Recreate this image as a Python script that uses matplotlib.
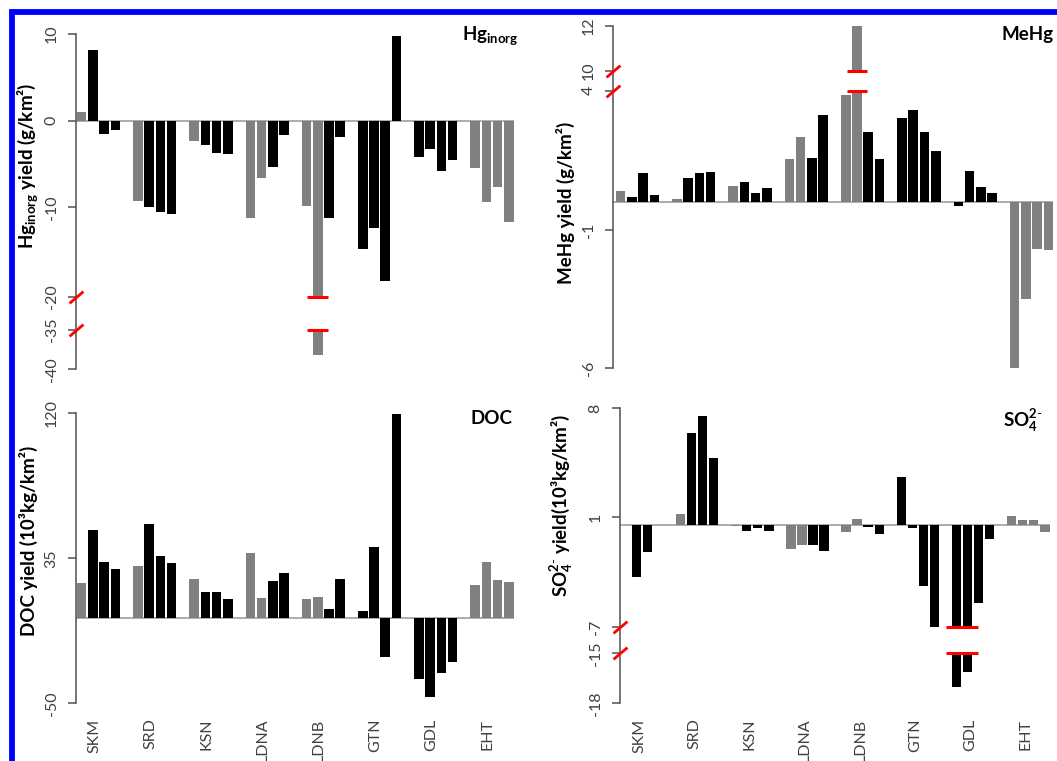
import numpy as np
import matplotlib
matplotlib.use("Agg")
import matplotlib.pyplot as plt
from matplotlib.patches import Rectangle

plt.rcParams['font.family'] = ['Lato', 'DejaVu Sans']
plt.rcParams['mathtext.fontset'] = 'custom'
plt.rcParams['mathtext.rm'] = 'Lato'
plt.rcParams['mathtext.bf'] = 'Lato:bold'
plt.rcParams['mathtext.it'] = 'Lato:italic'
plt.rcParams['axes.unicode_minus'] = False

# ---------------------------------------------------------------- data
SITES = ["SKM", "SRD", "KSN", "LDNA", "LDNB", "GTN", "GDL", "EHT"]
# g = grey bar, b = black bar (four periods per site)
SHADES = ["gbbb", "gbbb", "gbbb", "ggbb", "ggbb", "bbbb", "bbbb", "gggg"]

HG_INORG = [
    [1.0, 8.2, -1.5, -1.1],
    [-9.3, -10.0, -10.5, -10.7],
    [-2.4, -2.8, -3.7, -3.85],
    [-11.2, -6.65, -5.3, -1.7],
    [-9.9, -38.2, -11.2, -1.85],
    [-14.7, -12.35, -18.25, 9.75],
    [-4.15, -3.3, -5.8, -4.55],
    [-5.45, -9.4, -7.6, -11.65],
]
MEHG = [
    [0.40, 0.19, 1.06, 0.25],
    [0.12, 0.85, 1.06, 1.09],
    [0.59, 0.71, 0.31, 0.50],
    [1.56, 2.34, 1.59, 3.11],
    [3.84, 12.0, 2.52, 1.56],
    [3.03, 3.31, 2.52, 1.83],
    [-0.14, 1.13, 0.55, 0.32],
    [-6.0, -3.49, -1.69, -1.73],
]
DOC = [
    [20.7, 51.8, 32.8, 28.9],
    [30.3, 54.9, 36.6, 32.3],
    [22.7, 15.3, 15.3, 11.4],
    [37.9, 11.9, 21.5, 26.6],
    [11.4, 12.5, 5.1, 22.7],
    [4.3, 41.6, -22.7, 119.4],
    [-35.9, -46.5, -32.1, -26.0],
    [19.6, 32.6, 22.1, 21.3],
]
SO4 = [
    [0.0, -3.54, -1.85, 0.0],
    [1.19, 6.39, 7.49, 4.79],
    [-0.07, -0.39, -0.21, -0.39],
    [-1.64, -1.39, -1.39, -1.78],
    [-0.5, 0.78, -0.14, -0.62],
    [3.59, -0.21, -4.15, -7.0],
    [-17.0, -16.1, -5.36, -0.98],
    [1.1, 0.61, 0.61, -0.5],
]

HG_TICKS = [10, 0, -10, -20, -35, -40]
MEHG_TICKS = [12, 10, 4, -1, -6]
DOC_TICKS = [120, 35, -50]
SO4_TICKS = [8, 1, -7, -15, -18]

# ---------------------------------------------------------------- style
GREY = "#808080"
BLACK = "#000000"
AXIS_COL = "#505050"
TICK_TXT = "#404040"
ZERO_COL = "#a6a6a6"
BREAK_COL = "#ff0000"
BAR_W = 0.85

W, H = 1057, 761
fig = plt.figure(figsize=(W / 100, H / 100), dpi=100)


def piecewise_scale(vals, ys):
    """Broken-axis scale: piecewise linear between knot values."""
    v = np.asarray(vals, float)
    p = -np.asarray(ys, float)

    def _map(x, a, b):
        x = np.asarray(x, float)
        out = np.interp(x, a, b)
        s0 = (b[1] - b[0]) / (a[1] - a[0])
        s1 = (b[-1] - b[-2]) / (a[-1] - a[-2])
        out = np.where(x < a[0], b[0] + (x - a[0]) * s0, out)
        out = np.where(x > a[-1], b[-1] + (x - a[-1]) * s1, out)
        return out

    return (lambda x: _map(x, v, p)), (lambda y: _map(y, p, v))


def add_panel(spec):
    left, top, right, bottom = spec["box"]
    ax = fig.add_axes([left / W, 1 - bottom / H, (right - left) / W, (bottom - top) / H])
    fwd, inv = piecewise_scale(spec["knot_vals"], spec["knot_px"])
    ax.set_yscale("function", functions=(fwd, inv))

    values = np.asarray(spec["data"], float)
    xs, ys, cols = [], [], []
    for i, site_vals in enumerate(values):
        for j, val in enumerate(site_vals):
            xs.append(5 * i + j)
            ys.append(val)
            cols.append(GREY if SHADES[i][j] == "g" else BLACK)
    xs = np.array(xs, float)
    ys = np.array(ys, float)

    ax.axhline(0, color=ZERO_COL, lw=1.3, zorder=1)
    ax.bar(xs, ys, width=BAR_W, color=cols, zorder=2, linewidth=0)

    ticks = spec["ticks"]
    ax.set_ylim(min(ticks), max(ticks))
    ax.set_xlim(spec["xlim"], 38.45)

    # broken bars: blank the gap and mark both cut edges
    gap = spec.get("gap")
    if gap is not None:
        lo, hi = gap
        cut = (ys < lo) if hi <= 0 else (ys > hi)
        for x in xs[cut]:
            ax.add_patch(Rectangle((x - BAR_W / 2 - 0.05, lo), BAR_W + 0.1, hi - lo,
                                   facecolor="white", edgecolor="none", zorder=3))
        if cut.any():
            ax.hlines([lo, hi], xs[cut].min() - 0.93, xs[cut].max() + 0.93,
                      colors=BREAK_COL, lw=2.2, zorder=4)
        slash = [(-1, -0.85), (1, 0.85)]
        ax.plot([0, 0], [lo, hi], linestyle="none", marker=slash, ms=10,
                mec=BREAK_COL, mfc="none", mew=2.0,
                transform=ax.get_yaxis_transform(), clip_on=False, zorder=5)

    for side in ("top", "right", "bottom"):
        ax.spines[side].set_visible(False)
    ax.spines["left"].set_color(AXIS_COL)
    ax.spines["left"].set_linewidth(1.1)

    ax.set_yticks(ticks)
    ax.set_yticklabels([str(t) for t in ticks])
    ax.yaxis.set_minor_locator(matplotlib.ticker.NullLocator())
    ax.tick_params(axis="y", labelrotation=90, length=5.5, width=1.1,
                   color=AXIS_COL, labelcolor=TICK_TXT, labelsize=11.5, pad=7)
    for lab in ax.get_yticklabels():
        lab.set_verticalalignment("center")

    if spec.get("xlabels"):
        ax.set_xticks([5 * i + spec["label_off"] for i in range(len(SITES))])
        ax.set_xticklabels(SITES, rotation=90, fontsize=11.5, color=TICK_TXT)
        ax.tick_params(axis="x", length=0, pad=11)
    else:
        ax.set_xticks([])

    yl_x, yl_y = spec["ylabel_at"]
    fig.text(yl_x / W, 1 - yl_y / H, spec["ylabel"], rotation=90, ha="center",
             va="center", fontsize=13.5, fontweight="bold", color="#000000")
    tx, ty, tha = spec["title_at"]
    fig.text(tx / W, 1 - ty / H, spec["title"], ha=tha, va="baseline",
             fontsize=13.5, fontweight="bold", color="#000000")
    return ax


panels = [
    dict(data=HG_INORG, box=(76, 34, 514, 369.3), xlim=-0.5,
         knot_vals=[-40, -35, -20, -10, 0, 10],
         knot_px=[369.3, 330, 296.7, 207.3, 120.7, 34],
         ticks=HG_TICKS, gap=(-35, -20),
         ylabel=r"Hg$_{\mathbf{inorg}}$ yield (g/km²)", ylabel_at=(28, 166),
         title=r"Hg$_{\mathbf{inorg}}$", title_at=(518, 40, "right")),
    dict(data=MEHG, box=(613.3, 25.7, 1053.4, 368), xlim=-0.65,
         knot_vals=[-6, -1, 0, 4, 10, 12],
         knot_px=[368, 230, 202, 90.7, 71, 25.7],
         ticks=MEHG_TICKS, gap=(4, 10),
         ylabel="MeHg yield (g/km²)", ylabel_at=(565, 203),
         title="MeHg", title_at=(1001.7, 40, "left")),
    dict(data=DOC, box=(76, 413.3, 514, 703.3), xlim=-0.5,
         knot_vals=[-50, 120], knot_px=[703.3, 413.3],
         ticks=DOC_TICKS, xlabels=True, label_off=1.1,
         ylabel="DOC yield (10³kg/km²)", ylabel_at=(28, 541),
         title="DOC", title_at=(512, 423.5, "right")),
    dict(data=SO4, box=(620, 408.3, 1049.8, 703.3), xlim=-0.48,
         knot_vals=[-18, -15, -7, 0, 1, 8],
         knot_px=[703.3, 653.3, 627.3, 525, 517.3, 408.3],
         ticks=SO4_TICKS, gap=(-15, -7), xlabels=True, label_off=1.27,
         ylabel=r"SO$_{\mathbf{4}}^{\mathbf{2\text{-}}}$ yield(10³kg/km²)", ylabel_at=(562, 505),
         title=r"SO$_{\mathbf{4}}^{\mathbf{2\text{-}}}$", title_at=(1003.3, 426.7, "left")),
]

for spec in panels:
    add_panel(spec)

# blue frame around the figure
fig.add_artist(Rectangle((11.5 / W, -0.05), 1.2, 1.05 - 12 / H, transform=fig.transFigure,
                         fill=False, edgecolor="#0000ff", lw=4.2, clip_on=False))

fig.savefig("out.png", dpi=100)
